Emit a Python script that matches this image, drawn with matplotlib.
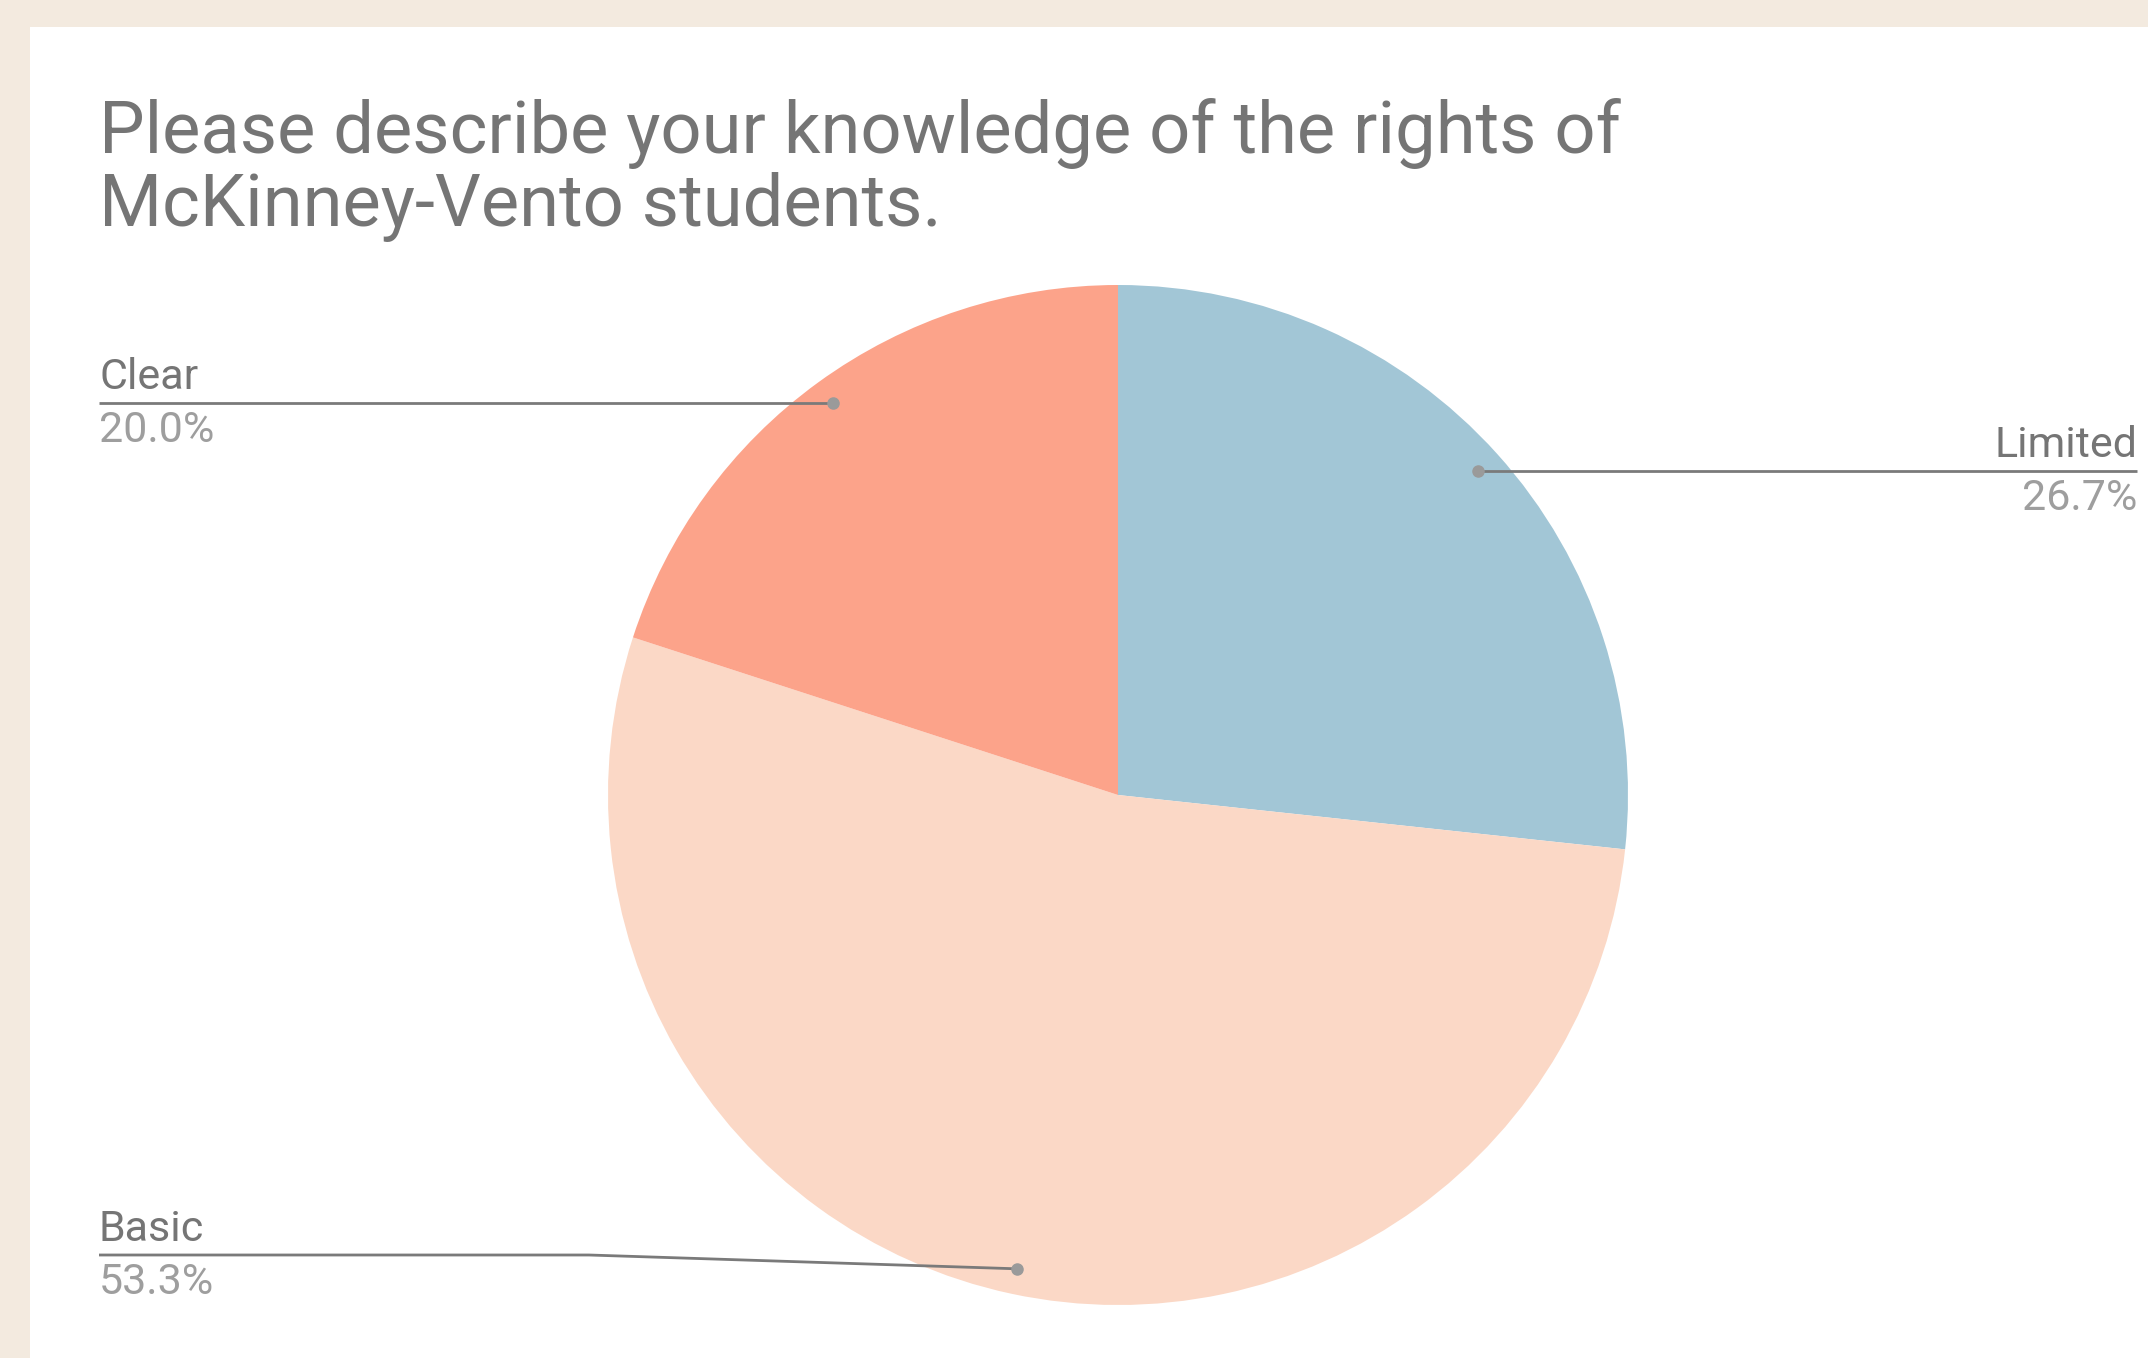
import numpy as np
import matplotlib.pyplot as plt
from matplotlib.patches import Rectangle

plt.rcParams['font.family'] = ['Roboto', 'DejaVu Sans']

title = "Please describe your knowledge of the rights of\nMcKinney-Vento students."
labels = ['Limited', 'Basic', 'Clear']
values = [26.7, 53.3, 20.0]
colors = ['#A2C6D6', '#FBD8C6', '#FCA38A']

W, H = 2148, 1358
fig = plt.figure(figsize=(W / 100, H / 100), dpi=100)
fig.patch.set_facecolor('#F3EADF')

ax = fig.add_axes([0, 0, 1, 1])
ax.patch.set_alpha(0)
# white card
ax.add_patch(Rectangle((30, 0), W, H - 27, facecolor='white', edgecolor='none', zorder=-1))

cx, cy, r = 1118, H - 795, 510
wedges, _ = ax.pie(values, colors=colors, startangle=90, counterclock=False,
                   center=(cx, cy), radius=r, wedgeprops=dict(linewidth=0))
ax.set_xlim(0, W)
ax.set_ylim(0, H)
ax.set_aspect('equal')
ax.axis('off')

t1, t2 = title.split('\n')
ax.text(99, H - 153, t1, fontsize=52, color='#757575', va='baseline', ha='left')
ax.text(99, H - 226, t2, fontsize=52, color='#757575', va='baseline', ha='left')

line_c = '#7A7A7A'
lab_c = '#757575'
pct_c = '#9E9E9E'


def dot_pos(w):
    a = np.deg2rad((w.theta1 + w.theta2) / 2)
    return cx + 0.95 * r * np.cos(a), cy + 0.95 * r * np.sin(a)


# label layout: (x of text edge, leader y or None = level with dot, alignment, bend x)
layout = {
    'Limited': (2137, None, 'right', None),
    'Basic': (99, 1255, 'left', 589),
    'Clear': (99, None, 'left', None),
}

for w, lab, v in zip(wedges, labels, values):
    tx, ly, ha, bend = layout[lab]
    dx, dy = dot_pos(w)
    ly = dy if ly is None else H - ly
    if bend is None:
        xs, ys = [tx, dx], [ly, dy]
    else:
        xs, ys = [tx, bend, dx], [ly, ly, dy]
    ax.plot(xs, ys, color=line_c, lw=2, solid_capstyle='butt', zorder=5)
    ax.plot(dx, dy, 'o', color='#9A9A9A', ms=8, zorder=6)
    ax.text(tx, ly + 14, lab, fontsize=31, color=lab_c, ha=ha, va='baseline')
    ax.text(tx, ly - 7, f"{v:.1f}%", fontsize=31, color=pct_c, ha=ha, va='top')

fig.savefig('out.png', dpi=100, facecolor=fig.get_facecolor())
